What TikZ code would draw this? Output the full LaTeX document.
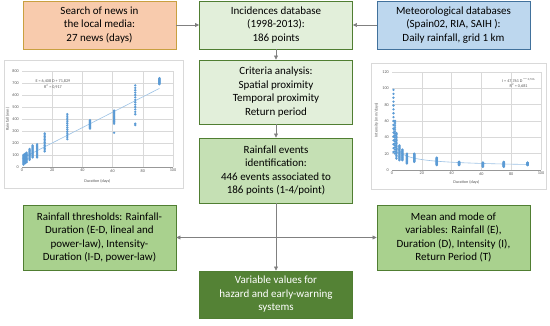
\documentclass[tikz,border=0pt]{standalone}
\usepackage{fontspec}
\setmainfont{Carlito}
\usepackage{tikz}
\usetikzlibrary{calc,arrows.meta,positioning}
\definecolor{newsfill}{HTML}{F8CBAD}
\definecolor{newsline}{HTML}{C9A040}
\definecolor{metfill}{HTML}{BDD7EE}
\definecolor{metline}{HTML}{41719C}
\definecolor{palegr}{HTML}{E2EFDA}
\definecolor{midgr}{HTML}{C5E0B4}
\definecolor{strgr}{HTML}{A9D18E}
\definecolor{deepgr}{HTML}{548235}
\definecolor{grline}{HTML}{507E32}
\definecolor{arrowgray}{HTML}{808080}
\definecolor{dotc}{HTML}{5B9BD5}
\definecolor{trendc}{HTML}{9DC3E6}
\definecolor{gridc}{HTML}{D9D9D9}
\definecolor{tickc}{HTML}{595959}
\tikzset{
  ar/.style={-{Triangle[length=4pt,width=4pt]},line width=0.7pt,arrowgray},
  box/.style={draw=grline,line width=0.9pt,align=center,minimum width=153pt,inner sep=2pt,font=\fontsize{11}{13.5}\selectfont},
  ticklbl/.style={font=\fontsize{4.2}{4.6}\selectfont,text=tickc,inner sep=1pt},
  panel/.style={draw=gridc,fill=white,line width=0.5pt},
  gridln/.style={gridc,line width=0.4pt}
}

\begin{document}
\begin{tikzpicture}[x=1pt,y=-1pt]
\useasboundingbox (0,0) rectangle (550,325);
\node[box,fill=newsfill,draw=newsline,minimum height=48pt] (news) at (99.5,25) {Search of news in\\the local media:\\27 news (days)};
\node[box,fill=palegr,minimum height=48pt] (incid) at (276,25) {Incidences database\\(1998-2013):\\186 points};
\node[box,fill=metfill,draw=metline,minimum height=48pt] (meteo) at (453.5,25) {Meteorological databases\\(Spain02, RIA, SAIH ):\\Daily rainfall, grid 1 km};
\node[box,fill=palegr,minimum height=64pt] (crit) at (276,92) {Criteria analysis:\\Spatial proximity\\Temporal proximity\\Return period};
\node[box,fill=midgr,minimum height=65pt] (events) at (276,170.5) {Rainfall events\\identification:\\446 events associated to\\186 points (1-4/point)};
\node[box,fill=strgr,minimum height=65pt] (thresh) at (99.5,237.5) {Rainfall thresholds: Rainfall-\\Duration (E-D, lineal and\\power-law), Intensity-\\Duration (I-D, power-law)};
\node[box,fill=strgr,minimum height=65pt] (meanmode) at (453.5,237.5) {Mean and mode of\\variables: Rainfall (E),\\Duration (D), Intensity (I),\\Return Period (T)};
\node[box,fill=deepgr,text=white,minimum height=47pt] (final) at (276,294.5) {Variable values for\\hazard and early-warning\\systems};
\draw[ar] (news) -- (incid);
\draw[ar] (meteo) -- (incid);
\draw[ar] (incid) -- (crit);
\draw[ar] (crit) -- (events);
\draw[ar] (events) -- (final);
\coordinate (split) at (events.south |- thresh.east);
\draw[ar] (split) -- (thresh);
\draw[ar] (split) -- (meanmode);
\draw[panel] (4,60) rectangle (183,188);
\begin{scope}[shift={(22,167)},x=1.51pt,y=0.12pt]
\foreach \g in {100,200,...,800} \draw[gridln] (0,\g) -- (100,\g);
\foreach \g in {20,40,...,100} \draw[gridln] (\g,0) -- (\g,800);
\draw[gridc!70!black,line width=0.4pt] (0,0) -- (100,0);
\foreach \g in {0,100,...,800} \node[ticklbl,anchor=east,xshift=-2pt] at (0,\g) {\g};
\foreach \g in {0,20,...,100} \node[ticklbl,anchor=north,yshift=-1pt] at (\g,0) {\g};
\node[ticklbl] at (50,-117) {Duration (days)};
\node[ticklbl,rotate=90] at (-9.5,400) {Rainfall (mm)};
\draw[trendc,line width=0.6pt] (0,72) -- (91,655);
\foreach \d/\lo/\hi in {1/20/100,2/30/110,3/40/120,5/60/150,7/80/180,10/80/190,15/130/280,30/250/440,45/320/390,61/360/470,75/440/680,91/690/740}
  \foreach \k in {0,...,12} \fill[dotc] (\d,{\lo+\k*(\hi-\lo)/12}) circle (1.3pt);
\foreach \d/\v in {30/232,61/285,75/350,75/362} \fill[dotc] (\d,\v) circle (1.3pt);
\node[ticklbl] at (20.5,717) {E = 6,408 D + 71,829};
\node[ticklbl] at (20.5,667) {R\textsuperscript{2} = 0,917};
\end{scope}
\draw[panel] (371,63) rectangle (546,189);
\begin{scope}[shift={(392,170)},x=1.49pt,y=0.817pt]
\foreach \g in {20,40,...,120} \draw[gridln] (0,\g) -- (100,\g);
\foreach \g in {20,40,...,100} \draw[gridln] (\g,0) -- (\g,120);
\draw[gridc!70!black,line width=0.4pt] (0,0) -- (100,0);
\foreach \g in {0,20,...,120} \node[ticklbl,anchor=east,xshift=-2pt] at (0,\g) {\g};
\foreach \g in {0,20,...,100} \node[ticklbl,anchor=north,yshift=-1pt] at (\g,0) {\g};
\node[ticklbl] at (50,-15) {Duration (days)};
\node[ticklbl,rotate=90] at (-10.5,61) {Intensity (mm/days)};
\draw[trendc,line width=0.6pt,domain=0.6:91,samples=80] plot (\x,{45*pow(\x,-0.42)});
\foreach \d/\lo/\hi in {1/22/98,2/20/60,3/16/45,5/12/30,7/12/25,10/8/20,15/10/20,30/6/15,45/6/10,61/4/9,75/4/10,91/6/9}
  \foreach \k in {0,...,16} \fill[dotc] (\d,{\lo+\k*(\hi-\lo)/16}) circle (1.3pt);
\fill[dotc] (3,14) circle (1.3pt);
\node[ticklbl] at (85,110) {I = 47,761 D\textsuperscript{$-$0,556}};
\node[ticklbl] at (85,102.5) {R\textsuperscript{2} = 0,681};
\end{scope}
\end{tikzpicture}
\end{document}
